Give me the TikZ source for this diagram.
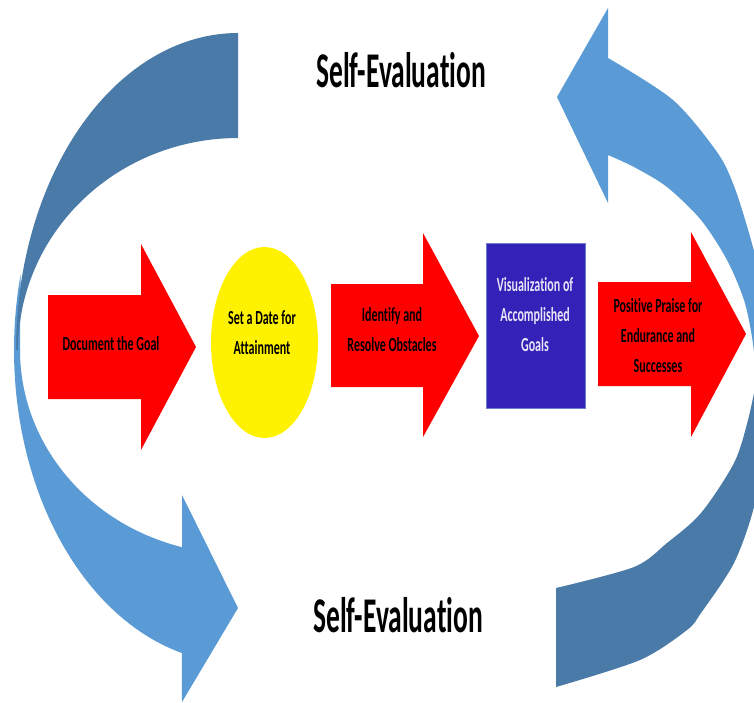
\documentclass[tikz,border=0pt]{standalone}
\usepackage{fontspec}
\setmainfont{Carlito}[Ligatures=CommonOff]
\definecolor{arcdark}{HTML}{4A7BA8}
\definecolor{arclight}{HTML}{5B9BD5}
\definecolor{boxblue}{HTML}{3421B7}
\definecolor{boxedge}{HTML}{6A80CC}
\definecolor{boxtext}{HTML}{E6E4F6}
\newcommand{\sqz}[1]{\scalebox{0.6}[1]{#1}}
\newcommand{\sqztitle}[1]{\scalebox{0.55}[1]{#1}}
\tikzset{
  redarrow/.style={fill=red, draw=none},
  lbl/.style={anchor=base, align=center, inner sep=0pt, font=\bfseries\fontsize{20}{30}\selectfont},
  titletext/.style={anchor=base, inner sep=0pt, font=\bfseries\fontsize{50}{60}\selectfont},
}
\begin{document}
\begin{tikzpicture}[x=1pt,y=-1pt]
\useasboundingbox (0,0) rectangle (754,702);
\clip (0,0) rectangle (754,702);
\fill[white] (0,0) rectangle (754,702);

% left light arrow (front part, pointing right at bottom)
\fill[arclight] plot[domain=194:104.5, samples=80, variable=\t] ({238+224*cos(\t)},{350+313*sin(\t)})
  -- (182,702) -- (238,608) -- (182,495) -- (182,547)
  -- plot[domain=104.9:180, samples=80, variable=\t] ({238+218*cos(\t)},{350+204*sin(\t)}) -- cycle;
% left dark crescent (back part)
\fill[arcdark] plot[domain=270:180, samples=80, variable=\t] ({238+222*cos(\t)},{350+317*sin(\t)})
  -- plot[domain=180:270, samples=80, variable=\t] ({238+220*cos(\t)},{350+212*sin(\t)}) -- cycle;

% right light arrow (pointing up-left at top)
\fill[arclight] (608,58) -- (608,8) -- (557,97) -- (608,203)
  -- plot[smooth] coordinates {(608,155) (634,167) (667,187) (701,220) (727,260) (744,300) (752,337) (757,378)}
  -- plot[smooth] coordinates {(772,378) (768,330) (761,280) (749,233) (734,186) (717,152) (673,100) (608,58)} -- cycle;
% right dark crescent (back part)
\fill[arcdark] plot[smooth] coordinates {(556,588) (634,567) (667,543) (701,513) (734,463) (748,420) (757,378)}
  -- plot[smooth] coordinates {(772,378) (766,440) (754,507) (734,563) (701,613) (687,630) (640,660) (556,687)} -- cycle;

% red arrows
\fill[redarrow] (48,295) -- (141,295) -- (141,244) -- (196,347) -- (141,450) -- (141,399) -- (48,399) -- cycle;
\fill[redarrow] (331,284) -- (423,284) -- (423,233) -- (479,336) -- (423,437) -- (423,387) -- (331,387) -- cycle;
\fill[redarrow] (598,282) -- (691,282) -- (691,232) -- (746,334) -- (691,437) -- (691,386) -- (598,386) -- cycle;

% yellow ellipse
\fill[yellow] (264.5,342.5) ellipse [x radius=53.5, y radius=95.5];
% blue box
\filldraw[fill=boxblue, draw=boxedge, line width=0.8pt] (486,243) rectangle (585,408);

% texts (anchor base = baseline of the last line)
\node[titletext] (evaltop) at (401,87) {\sqztitle{Self-Evaluation}};
\node[titletext] (evalbot) at (398,632) {\sqztitle{Self-Evaluation}};
\node[lbl] (doc) at (111,350) {\sqz{Document the Goal}};
\node[lbl] (date) at (262,354) {\sqz{Set a Date for}\\\sqz{Attainment}};
\node[lbl] (ident) at (392,351) {\sqz{Identify and}\\\sqz{Resolve Obstacles}};
\node[lbl, text=boxtext] (vis) at (535,351) {\sqz{Visualization of}\\\sqz{Accomplished}\\\sqz{Goals}};
\node[lbl] (praise) at (658,372) {\sqz{Positive Praise for}\\\sqz{Endurance and}\\\sqz{Successes}};
\end{tikzpicture}
\end{document}
